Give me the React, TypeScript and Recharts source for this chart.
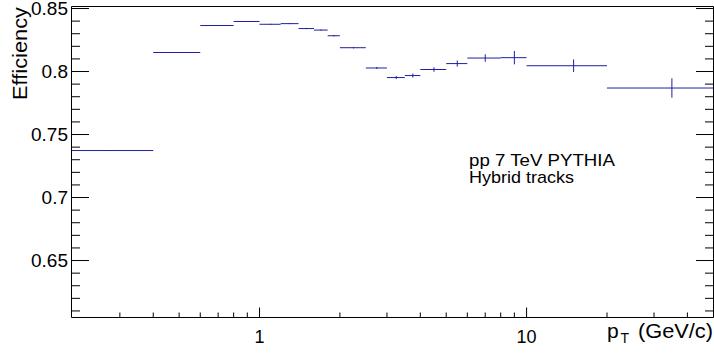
import React from 'react';
import { ComposedChart, Scatter, XAxis, YAxis, ErrorBar, Customized } from 'recharts';

// pT bins (GeV/c)
const binLow = [0.15, 0.4, 0.6, 0.8, 1.0, 1.2, 1.4, 1.6, 1.8, 2.0, 2.5, 3.0, 3.5, 4.0, 5.0, 6.0, 8.0, 10, 20];
const binHigh = [0.4, 0.6, 0.8, 1.0, 1.2, 1.4, 1.6, 1.8, 2.0, 2.5, 3.0, 3.5, 4.0, 5.0, 6.0, 8.0, 10, 20, 50];
// efficiency per bin
const efficiency = [0.7373, 0.8151, 0.8365, 0.8397, 0.8375, 0.838, 0.8341, 0.8329, 0.8284, 0.8189, 0.8028, 0.7952, 0.7968, 0.8016, 0.8063, 0.8107, 0.811, 0.8046, 0.7869];
const effError = [0.0003, 0.0003, 0.0003, 0.0003, 0.0004, 0.0004, 0.0005, 0.0005, 0.0006, 0.0006, 0.0008, 0.0012, 0.0016, 0.0018, 0.0024, 0.003, 0.0053, 0.005, 0.0077];

const xAllTicks = [0.3, 0.4, 0.5, 0.6, 0.7, 0.8, 0.9, 1, 2, 3, 4, 5, 6, 7, 8, 9, 10, 20, 30, 40];
const xMajorTicks = [1, 10];
const yAllTicks = [0.61, 0.62, 0.63, 0.64, 0.65, 0.66, 0.67, 0.68, 0.69, 0.7, 0.71, 0.72, 0.73, 0.74, 0.75, 0.76, 0.77, 0.78, 0.79, 0.8, 0.81, 0.82, 0.83, 0.84, 0.85];
const yMajorTicks = [0.65, 0.7, 0.75, 0.8, 0.85];

const xDomain = [0.1977, 50.1];
const yDomain = [0.6048, 0.8516];

const annotation = ['pp 7 TeV PYTHIA', 'Hybrid tracks'];
const yTitle = 'Efficiency';

const FONT = '"Liberation Sans", Arial, Helvetica, sans-serif';
const COLOR = '#1f1f9f';

// bins are drawn only inside the visible axis range
const data = binLow.map((lo, i) => {
  const hi = binHigh[i];
  const x = (lo + hi) / 2;
  const visLo = Math.max(lo, xDomain[0]);
  const visHi = Math.min(hi, xDomain[1]);
  return { x, y: efficiency[i], ex: [x - visLo, visHi - x], ey: effError[i] };
});

const BottomTick = (props: any) => {
  const { x, y, payload } = props;
  const major = xMajorTicks.includes(payload.value);
  return (
    <g>
      <line x1={x} y1={y} x2={x} y2={y - (major ? 10 : 5)} stroke="#000" strokeWidth={1} />
      {major && (
        <text x={x} y={y + 25.5} textAnchor="middle" fontSize={18} fontFamily={FONT} fill="#000">
          {String(payload.value)}
        </text>
      )}
    </g>
  );
};

const TopTick = (props: any) => {
  const { x, y, payload } = props;
  const major = xMajorTicks.includes(payload.value);
  return <line x1={x} y1={y} x2={x} y2={y + (major ? 10 : 5)} stroke="#000" strokeWidth={1} />;
};

const LeftTick = (props: any) => {
  const { x, y, payload } = props;
  const major = yMajorTicks.includes(payload.value);
  return (
    <g>
      <line x1={x} y1={y} x2={x + (major ? 17.5 : 8.5)} y2={y} stroke="#000" strokeWidth={1} />
      {major && (
        <text x={x - 3.5} y={y + 6.5} textAnchor="end" fontSize={19} fontFamily={FONT} fill="#000">
          {String(payload.value)}
        </text>
      )}
    </g>
  );
};

const RightTick = (props: any) => {
  const { x, y, payload } = props;
  const major = yMajorTicks.includes(payload.value);
  return <line x1={x} y1={y} x2={x - (major ? 17.5 : 8.5)} y2={y} stroke="#000" strokeWidth={1} />;
};

const Texts = () => (
  <g fontFamily={FONT} fill="#000">
    <text x={469} y={165.5} fontSize={17} textLength={146} lengthAdjust="spacingAndGlyphs">
      {annotation[0]}
    </text>
    <text x={469} y={183} fontSize={17} textLength={105} lengthAdjust="spacingAndGlyphs">
      {annotation[1]}
    </text>
    <text
      transform="translate(26.5,7) rotate(-90)"
      x={0}
      y={0}
      textAnchor="end"
      fontSize={21}
      textLength={93}
      lengthAdjust="spacingAndGlyphs"
    >
      {yTitle}
    </text>
    <text x={607} y={338} fontSize={21}>p</text>
    <text x={620.5} y={343} fontSize={14}>T</text>
    <text x={638} y={338} fontSize={21} textLength={75} lengthAdjust="spacingAndGlyphs">
      (GeV/c)
    </text>
  </g>
);

export default function App() {
  return (
    <div style={{ position: 'absolute', left: 0, top: 0, width: 714, height: 358, background: '#fff' }}>
      <ComposedChart width={714} height={358} data={data} margin={{ top: 0, right: 0, bottom: 0, left: 0 }}>
        <XAxis
          xAxisId="bottom"
          dataKey="x"
          type="number"
          scale="log"
          domain={xDomain}
          allowDataOverflow
          ticks={xAllTicks}
          interval={0}
          orientation="bottom"
          height={40.5}
          tickSize={0}
          tickMargin={0}
          tickLine={false}
          axisLine={{ stroke: '#000', strokeWidth: 1 }}
          tick={BottomTick}
        />
        <XAxis
          xAxisId="top"
          type="number"
          scale="log"
          domain={xDomain}
          allowDataOverflow
          ticks={xAllTicks}
          interval={0}
          orientation="top"
          height={6.5}
          tickSize={0}
          tickMargin={0}
          tickLine={false}
          axisLine={{ stroke: '#000', strokeWidth: 1 }}
          tick={TopTick}
        />
        <YAxis
          yAxisId="left"
          type="number"
          domain={yDomain}
          allowDataOverflow
          ticks={yAllTicks}
          interval={0}
          orientation="left"
          width={71.5}
          tickSize={0}
          tickMargin={0}
          tickLine={false}
          axisLine={{ stroke: '#000', strokeWidth: 1 }}
          tick={LeftTick}
        />
        <YAxis
          yAxisId="right"
          type="number"
          domain={yDomain}
          allowDataOverflow
          ticks={yAllTicks}
          interval={0}
          orientation="right"
          width={0.5}
          tickSize={0}
          tickMargin={0}
          tickLine={false}
          axisLine={{ stroke: '#000', strokeWidth: 1 }}
          tick={RightTick}
        />
        <Scatter
          xAxisId="bottom"
          yAxisId="left"
          dataKey="y"
          isAnimationActive={false}
          shape={() => <g />}
        >
          <ErrorBar dataKey="ex" direction="x" width={0} stroke={COLOR} strokeWidth={1} isAnimationActive={false} />
          <ErrorBar dataKey="ey" direction="y" width={0} stroke={COLOR} strokeWidth={1} isAnimationActive={false} />
        </Scatter>
        <Customized component={Texts} />
      </ComposedChart>
    </div>
  );
}
